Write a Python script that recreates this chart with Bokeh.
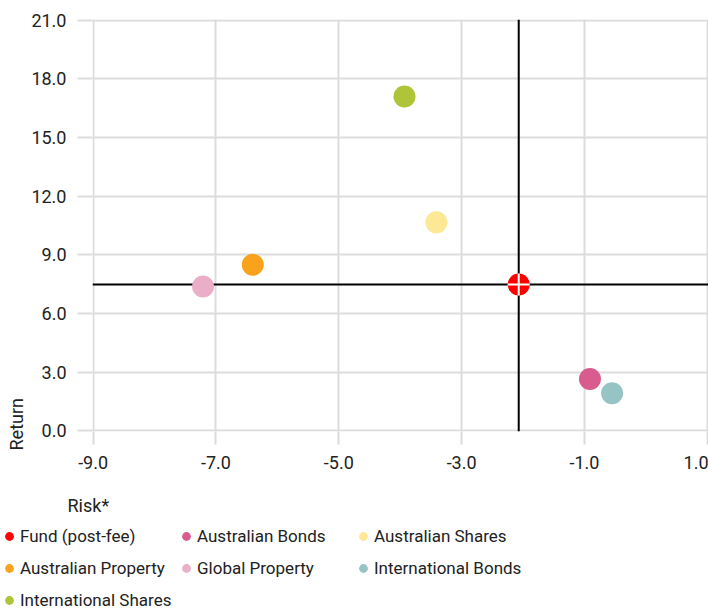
from bokeh.plotting import figure
from bokeh.layouts import column
from bokeh.models import (FixedTicker, NumeralTickFormatter, Span, Label,
                          Legend, LegendItem, Range1d, Title)
from bokeh.embed import file_html
from bokeh.resources import INLINE

# ---- data ----
names = ["Fund (post-fee)", "Australian Bonds", "Australian Shares",
         "Australian Property", "Global Property", "International Bonds",
         "International Shares"]
risk = [-2.07, -0.91, -3.41, -6.40, -7.21, -0.55, -3.93]
ret = [7.48, 2.65, 10.66, 8.49, 7.38, 1.93, 17.09]
colors = ["#FF0000", "#D85C8D", "#FDE896", "#F9A21B", "#EBAEC8", "#96C3C4", "#AFC438"]
x_ticks = [-9, -7, -5, -3, -1, 1]
y_ticks = [0, 3, 6, 9, 12, 15, 18, 21]
x_label = "Risk*"
y_label = "Return"

FONT = "Roboto"
TXT = "#222222"
GRID = "#DCDCDC"

# ---- main chart ----
p = figure(width=708, height=486, title=None,
           x_range=Range1d(-9.01, 1.02), y_range=Range1d(-0.03, 21.03),
           output_backend="svg", toolbar_location=None,
           min_border_left=92, min_border_right=0,
           min_border_top=19, min_border_bottom=55)
p.outline_line_color = None
p.background_fill_color = "white"

p.xaxis.ticker = FixedTicker(ticks=x_ticks)
p.yaxis.ticker = FixedTicker(ticks=y_ticks)
for ax in (p.xaxis[0], p.yaxis[0]):
    ax.formatter = NumeralTickFormatter(format="0.0")
    ax.axis_line_color = None
    ax.major_tick_line_color = GRID
    ax.major_tick_line_width = 2
    ax.major_tick_in = 0
    ax.minor_tick_line_color = None
    ax.major_label_text_font = FONT
    ax.major_label_text_font_size = "18px"
    ax.major_label_text_color = TXT
p.xaxis.major_tick_out = 13
p.xaxis.major_label_standoff = 11
p.xaxis.major_label_text_align = "right"
p.yaxis.major_tick_out = 15
p.yaxis.major_label_standoff = 11

p.xgrid.grid_line_color = GRID
p.xgrid.grid_line_width = 2
p.ygrid.grid_line_color = GRID
p.ygrid.grid_line_width = 2

# crosshair through the fund
p.add_layout(Span(location=risk[0], dimension="height", line_color="black",
                  line_width=2, level="underlay"))
p.add_layout(Span(location=ret[0], dimension="width", line_color="black",
                  line_width=2, level="underlay"))

for i in range(len(names)):
    p.scatter(x=[risk[i]], y=[ret[i]], size=22, marker="circle",
              fill_color=colors[i], line_color=None)
p.scatter(x=[risk[0]], y=[ret[0]], size=22, marker="cross",
          line_color="white", line_width=2)

p.add_layout(Title(text=y_label, align="left", standoff=4, offset=-19,
                   text_font=FONT, text_font_size="18px",
                   text_font_style="normal", text_color=TXT), "left")

# ---- legend strip ----
p2 = figure(width=708, height=125, title=None,
            x_range=Range1d(1000, 1708), y_range=Range1d(0, 125),
            output_backend="svg", toolbar_location=None, min_border=0,
            min_border_left=0, min_border_right=0,
            min_border_top=0, min_border_bottom=0,
            x_axis_location=None, y_axis_location=None)
p2.outline_line_color = None
p2.xgrid.visible = False
p2.ygrid.visible = False
for fig in (p, p2):
    if "frame_align" in fig.properties():
        fig.frame_align = False

leg_renderers = []
for i in range(len(names)):
    r = p2.scatter(x=[risk[i]], y=[ret[i]], size=22, marker="circle",
                   fill_color=colors[i], line_color=None)
    leg_renderers.append(r)

p2.add_layout(Label(x=67, y=106, x_units="screen", y_units="screen",
                    text=x_label, text_align="left", text_baseline="middle",
                    text_font=FONT, text_font_size="18px", text_color=TXT))

legend = Legend(items=[LegendItem(label=names[i], renderers=[leg_renderers[i]])
                       for i in range(len(names))],
                location=(-2, -4.5), orientation="horizontal", ncols=3,
                glyph_width=22, glyph_height=32, label_height=32,
                label_width=155, label_standoff=0, spacing=0, padding=0,
                margin=0, border_line_color=None, background_fill_alpha=0,
                label_text_font=FONT, label_text_font_size="17px",
                label_text_color=TXT, label_text_baseline="middle")
p2.add_layout(legend, "center")

layout = column(p, p2, spacing=0)
open("out.html", "w").write(file_html(layout, INLINE))
